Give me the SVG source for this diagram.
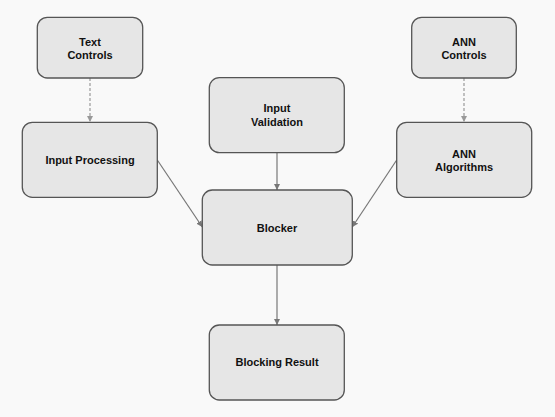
<svg xmlns="http://www.w3.org/2000/svg" width="555" height="417" viewBox="0 0 555 417">
<style>
.node rect{fill:#e6e6e6;stroke:#555;stroke-width:1.3}
.node text{font-family:"Liberation Sans",Arial,sans-serif;font-size:11px;font-weight:bold;fill:#111;text-anchor:middle}
.edge{stroke:#777;stroke-width:1.2;fill:none}
.dash{stroke:#999;stroke-width:1.2;stroke-dasharray:3,2;fill:none}
</style>
<defs>
<marker id="arr" viewBox="0 0 10 10" refX="10" refY="5" markerWidth="6" markerHeight="6" markerUnits="userSpaceOnUse" orient="auto"><path d="M0,0 L10,5 L0,10 Z" fill="#777"/></marker>
<marker id="arrd" viewBox="0 0 10 10" refX="10" refY="5" markerWidth="6" markerHeight="6" markerUnits="userSpaceOnUse" orient="auto"><path d="M0,0 L10,5 L0,10 Z" fill="#999"/></marker>
</defs>
<rect width="555" height="417" fill="#f9f9f9"/>
<g id="connectors">
<line class="dash" x1="90" y1="78" x2="90" y2="122" marker-end="url(#arrd)"/>
<line class="dash" x1="464" y1="78" x2="464" y2="122" marker-end="url(#arrd)"/>
<line class="edge" x1="277" y1="153" x2="277" y2="190" marker-end="url(#arr)"/>
<line class="edge" x1="157.3" y1="160" x2="202.3" y2="227" marker-end="url(#arr)"/>
<line class="edge" x1="396.7" y1="160" x2="352.3" y2="227" marker-end="url(#arr)"/>
<line class="edge" x1="277" y1="265" x2="277" y2="325" marker-end="url(#arr)"/>
</g>
<g id="text-controls" class="node"><rect x="37.3" y="17.3" width="105.4" height="60.7" rx="10"/><text x="90" y="46">Text</text><text x="90" y="58.5">Controls</text></g>
<g id="ann-controls" class="node"><rect x="411.7" y="17.3" width="104.6" height="60.7" rx="10"/><text x="464" y="46">ANN</text><text x="464" y="58.5">Controls</text></g>
<g id="input-validation" class="node"><rect x="209.3" y="77.7" width="135" height="75" rx="10"/><text x="277" y="112">Input</text><text x="277" y="125.5">Validation</text></g>
<g id="input-processing" class="node"><rect x="22.3" y="122.3" width="135" height="75" rx="10"/><text x="90" y="164">Input Processing</text></g>
<g id="ann-algorithms" class="node"><rect x="396.7" y="122.3" width="135" height="75" rx="10"/><text x="464" y="158">ANN</text><text x="464" y="170.5">Algorithms</text></g>
<g id="blocker" class="node"><rect x="202.3" y="190" width="150" height="75" rx="10"/><text x="277" y="232">Blocker</text></g>
<g id="blocking-result" class="node"><rect x="209.3" y="325" width="135" height="75" rx="10"/><text x="277" y="366">Blocking Result</text></g>
</svg>
